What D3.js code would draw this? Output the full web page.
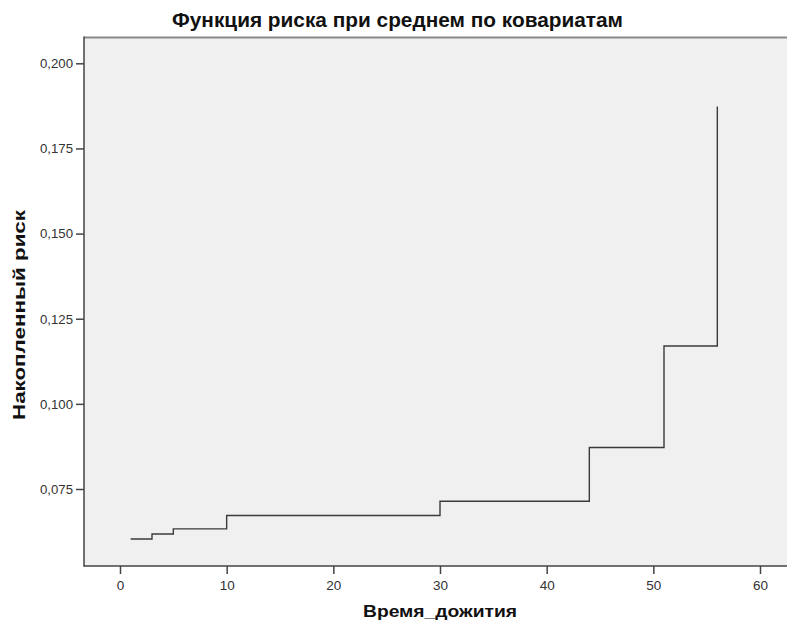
<!DOCTYPE html>
<html>
<head>
<meta charset="utf-8">
<script src="https://cdn.jsdelivr.net/npm/d3@7"></script>
<style>
  html, body { margin: 0; padding: 0; background: #fff; }
  svg { display: block; }
  text { font-family: Arial, "Liberation Sans", sans-serif; }
</style>
</head>
<body>
<svg id="chart" width="787" height="625"></svg>
<script>
// Data
const times  = [1, 3, 5, 10, 30, 44, 51, 56];
const hazard = [0.0603, 0.0618, 0.0633, 0.0672, 0.0714, 0.0872, 0.1170, 0.1873];
const xTicks = [0, 10, 20, 30, 40, 50, 60];
const yTicks = [0.075, 0.100, 0.125, 0.150, 0.175, 0.200];
const titleText = "Функция риска при среднем по ковариатам";
const xLabel = "Время_дожития";
const yLabel = "Накопленный риск";

const svg = d3.select("#chart");
const plot = { left: 84, top: 37.5, right: 787, bottom: 566 };

const x = d3.scaleLinear().domain([0, 60]).range([120, 760]);
const y = d3.scaleLinear().domain([0.075, 0.200]).range([489, 63.3]);

// plot background
svg.append("rect")
  .attr("x", plot.left).attr("y", plot.top)
  .attr("width", plot.right - plot.left).attr("height", plot.bottom - plot.top)
  .attr("fill", "#f0f0f0");

// top border (lighter)
svg.append("line")
  .attr("x1", plot.left).attr("x2", plot.right)
  .attr("y1", plot.top).attr("y2", plot.top)
  .attr("stroke", "#8a8a8a").attr("stroke-width", 2);

// Axes
const fmt = d => d3.format(".3f")(d).replace(".", ",");

const yAxis = svg.append("g")
  .attr("transform", `translate(${plot.left},0)`)
  .call(d3.axisLeft(y).tickValues(yTicks).tickFormat(fmt).tickSize(8).tickPadding(3));
const xAxis = svg.append("g")
  .attr("transform", `translate(0,${plot.bottom})`)
  .call(d3.axisBottom(x).tickValues(xTicks).tickFormat(d3.format("d")).tickSize(8).tickPadding(6));

[xAxis, yAxis].forEach(g => {
  g.select(".domain").remove();
  g.selectAll(".tick line").attr("stroke", "#444").attr("stroke-width", 1.5);
  g.selectAll(".tick text").attr("fill", "#333").style("font-size", "13.5px");
});
yAxis.selectAll(".tick text").attr("textLength", 33).attr("lengthAdjust", "spacingAndGlyphs");

// left and bottom frame lines
svg.append("line")
  .attr("x1", plot.left).attr("x2", plot.left)
  .attr("y1", plot.top - 1).attr("y2", plot.bottom + 0.75)
  .attr("stroke", "#444").attr("stroke-width", 1.5);
svg.append("line")
  .attr("x1", plot.left).attr("x2", plot.right)
  .attr("y1", plot.bottom).attr("y2", plot.bottom)
  .attr("stroke", "#444").attr("stroke-width", 1.5);

// step line
const pts = times.map((t, i) => [t, hazard[i]]);
const line = d3.line()
  .x(d => x(d[0])).y(d => y(d[1]))
  .curve(d3.curveStepAfter);
svg.append("path")
  .attr("d", line(pts))
  .attr("fill", "none")
  .attr("stroke", "#3a3a3a")
  .attr("stroke-width", 1.4);

// Title
svg.append("text")
  .attr("x", 397.5).attr("y", 27)
  .attr("text-anchor", "middle")
  .attr("font-weight", "bold")
  .style("font-size", "20px")
  .attr("textLength", 451).attr("lengthAdjust", "spacingAndGlyphs")
  .attr("fill", "#111")
  .text(titleText);

// X label
svg.append("text")
  .attr("x", 440).attr("y", 617)
  .attr("text-anchor", "middle")
  .attr("font-weight", "bold")
  .style("font-size", "17px")
  .attr("textLength", 154).attr("lengthAdjust", "spacingAndGlyphs")
  .attr("fill", "#111")
  .text(xLabel);

// Y label
svg.append("text")
  .attr("transform", "translate(25,315) rotate(-90)")
  .attr("text-anchor", "middle")
  .attr("font-weight", "bold")
  .style("font-size", "17px")
  .attr("textLength", 210).attr("lengthAdjust", "spacingAndGlyphs")
  .attr("fill", "#111")
  .text(yLabel);
</script>
</body>
</html>
